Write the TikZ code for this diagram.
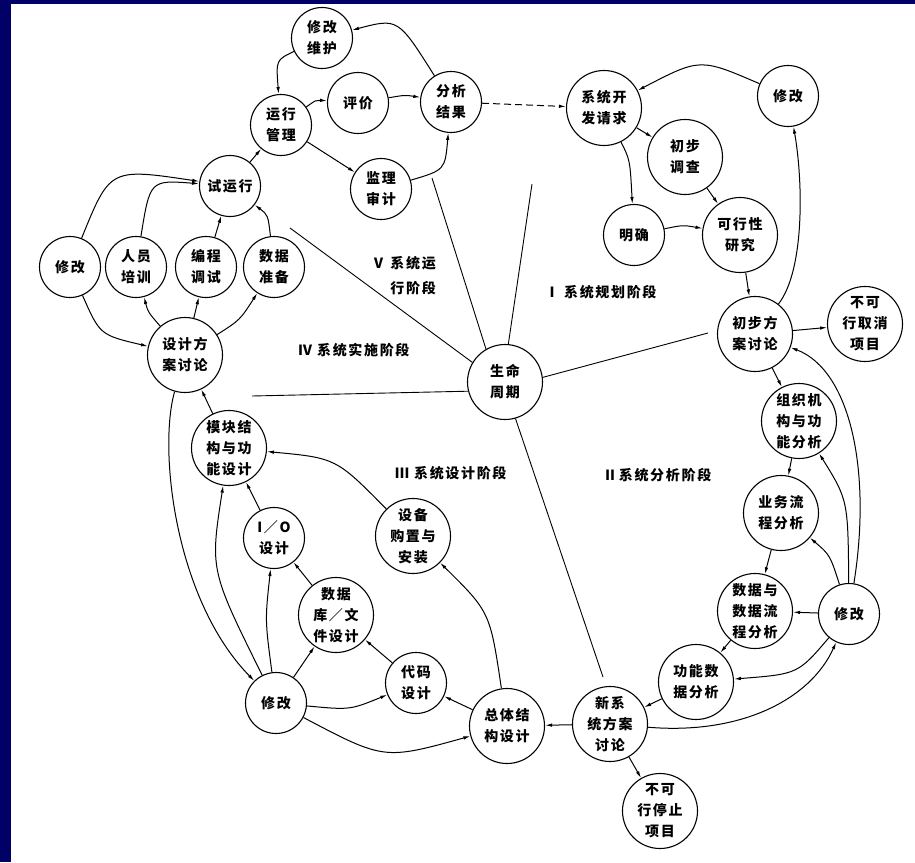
\documentclass[tikz,border=0pt]{standalone}
\usepackage{fontspec}
\newfontfamily\cjk[LetterSpace=12]{Noto Sans CJK SC}
\usetikzlibrary{arrows.meta}
\definecolor{navyband}{RGB}{0,0,102}
\begin{document}
\begin{tikzpicture}[x=1pt,y=-1pt,
  nd/.style={circle,draw,line width=1.1pt,inner sep=0pt,align=center,font=\cjk\bfseries\fontsize{14}{21}\selectfont},
  sm/.style={nd,minimum size=61pt},
  lg/.style={nd,minimum size=75pt},
  ar/.style={line width=1pt,-{Latex[length=7pt,width=3.5pt]}},
  rad/.style={line width=0.9pt},
  stage/.style={font=\cjk\bfseries\fontsize{14}{25}\selectfont,inner sep=0pt}]
\fill[navyband] (0,0) rectangle (915,862);
\fill[white] (11,4) rectangle (915,862);
\useasboundingbox (0,0) rectangle (915,862);

% ---- nodes ----
\node[sm] (xgwh) at (322,38) {修改\\维护};
\node[sm] (yxgl) at (281,125) {运行\\管理};
\node[sm] (pj) at (358,103) {评价};
\node[sm] (fxjg) at (451,102) {分析\\结果};
\node[sm] (jlsj) at (381,189) {监理\\审计};
\node[sm] (syx) at (230,186) {试运行};
\node[sm] (xg1) at (70,267) {修改};
\node[sm] (rypx) at (136,267) {人员\\培训};
\node[sm] (bctx) at (206,267) {编程\\调试};
\node[sm] (sjzb) at (274,267) {数据\\准备};
\node[lg] (sjfa) at (185,355) {设计方\\案讨论};
\node[lg] (smzq) at (505,382) {生命\\周期};
\node[lg] (xtkf) at (604,108) {系统开\\发请求};
\node[lg] (cbdc) at (685,157) {初步\\调查};
\node[sm] (mq) at (634,235) {明确};
\node[lg] (kxx) at (740,235) {可行性\\研究};
\node[sm] (xg2) at (788,96) {修改};
\node[lg] (cbfa) at (755,334) {初步方\\案讨论};
\node[lg] (bkx1) at (865,324) {不可\\行取消\\项目};
\node[lg] (zzjg) at (799,421) {组织机\\构与功\\能分析};
\node[lg] (ywlc) at (781,513) {业务流\\程分析};
\node[lg] (sjlc) at (755,611) {数据与\\数据流\\程分析};
\node[sm] (xg3) at (849,614) {修改};
\node[lg] (gnsj) at (696,682) {功能数\\据分析};
\node[lg] (xxt) at (610,724) {新系\\统方案\\讨论};
\node[lg] (bkx2) at (660,811) {不可\\行停止\\项目};
\node[lg] (ztjg) at (507,726) {总体结\\构设计};
\node[sm] (dmsj) at (416,683) {代码\\设计};
\node[lg] (sjk) at (336,615) {数据\\库／文\\件设计};
\node[sm] (xg4) at (276,703) {修改};
\node[sm] (io) at (274,538) {I／O\\设计};
\node[lg] (mkjg) at (229,448) {模块结\\构与功\\能设计};
\node[lg] (sbgz) at (413,536) {设备\\购置与\\安装};

% ---- stage labels ----
\node[stage,anchor=east,align=right] (s5) at (436,276) {Ⅴ 系统运\\行阶段};
\node[stage,anchor=west] (s1) at (545,292) {Ⅰ 系统规划阶段};
\node[stage,anchor=west] (s4) at (298,350) {Ⅳ 系统实施阶段};
\node[stage,anchor=west] (s3) at (395,473) {Ⅲ 系统设计阶段};
\node[stage,anchor=west] (s2) at (603,475) {Ⅱ系统分析阶段};

% ---- radial lines ----
\coordinate (a1) at (432,178);
\coordinate (a2) at (532,184);
\coordinate (a3) at (290,228);
\coordinate (a4) at (252,396);
\coordinate (a5) at (708,333);
\coordinate (a6) at (603,677);
\draw[rad] (a1) -- (smzq.120);
\draw[rad] (a2) -- (smzq.85);
\draw[rad] (a3) -- (smzq.149);
\draw[rad] (a4) -- (smzq.194);
\draw[rad] (a5) -- (smzq.7);
\draw[rad] (a6) -- (smzq.286);

% ---- operation phase ----
\draw[ar] (fxjg) .. controls (398,18) .. (xgwh);
\draw[ar] (xgwh) .. controls (276,60) .. (yxgl);
\draw[ar] (yxgl) .. controls (316,100) .. (pj);
\draw[ar] (pj) .. controls (405,95) .. (fxjg);
\draw[ar] (yxgl) -- (jlsj);
\draw[ar] (jlsj) .. controls (445,170) .. (fxjg);
\draw[ar] (syx) -- (yxgl);
\draw[ar,dash pattern=on 7pt off 4pt] (fxjg) -- (xtkf);

% ---- implementation phase ----
\draw[ar] (xg1) .. controls (110,168) .. (syx);
\draw[ar] (rypx) .. controls (150,180) .. (syx);
\draw[ar] (bctx) -- (syx);
\draw[ar] (sjzb) .. controls (268,215) .. (syx);
\draw[ar] (sjfa) .. controls (148,312) .. (rypx);
\draw[ar] (sjfa) -- (bctx);
\draw[ar] (sjfa) .. controls (240,320) .. (sjzb);
\draw[ar] (xg1) .. controls (100,335) .. (sjfa);
\draw[ar] (mkjg) -- (sjfa);
\draw[ar] (sjfa) .. controls (158,450) and (175,600) .. (xg4);

% ---- design phase ----
\draw[ar] (xg4) .. controls (210,570) .. (mkjg);
\draw[ar] (xg4) .. controls (265,620) .. (io);
\draw[ar] (xg4) -- (sjk);
\draw[ar] (xg4) .. controls (350,710) .. (dmsj);
\draw[ar] (xg4) .. controls (384,760) .. (ztjg);
\draw[ar] (io) -- (mkjg);
\draw[ar] (sjk) -- (io);
\draw[ar] (dmsj) -- (sjk);
\draw[ar] (ztjg) -- (dmsj);
\draw[ar] (ztjg) .. controls (490,612) .. (sbgz);
\draw[ar] (sbgz) .. controls (336,458) .. (mkjg);
\draw[ar] (xxt) -- (ztjg);

% ---- analysis phase ----
\draw[ar] (xxt) -- (bkx2);
\draw[ar] (gnsj) -- (xxt);
\draw[ar] (sjlc) -- (gnsj);
\draw[ar] (ywlc) -- (sjlc);
\draw[ar] (zzjg) -- (ywlc);
\draw[ar] (cbfa) -- (zzjg);
\draw[ar] (cbfa) -- (bkx1);
\draw[ar] (xg3) -- (sjlc);
\draw[ar] (xg3) .. controls (830,555) .. (ywlc);
\draw[ar] (xg3) .. controls (848,500) .. (zzjg);
\draw[ar] (xg3) .. controls (872,470) and (850,370) .. (cbfa);
\draw[ar] (xg3) .. controls (798,674) .. (gnsj);
\draw[ar] (xxt) .. controls (740,735) and (810,700) .. (xg3);

% ---- planning phase ----
\draw[ar] (xtkf) -- (cbdc);
\draw[ar] (xtkf) .. controls (630,160) .. (mq);
\draw[ar] (mq) .. controls (683,225) .. (kxx);
\draw[ar] (cbdc) -- (kxx);
\draw[ar] (kxx) -- (cbfa);
\draw[ar] (cbfa) .. controls (805,270) and (803,180) .. (xg2);
\draw[ar] (xg2) .. controls (700,58) .. (xtkf);
\end{tikzpicture}
\end{document}
